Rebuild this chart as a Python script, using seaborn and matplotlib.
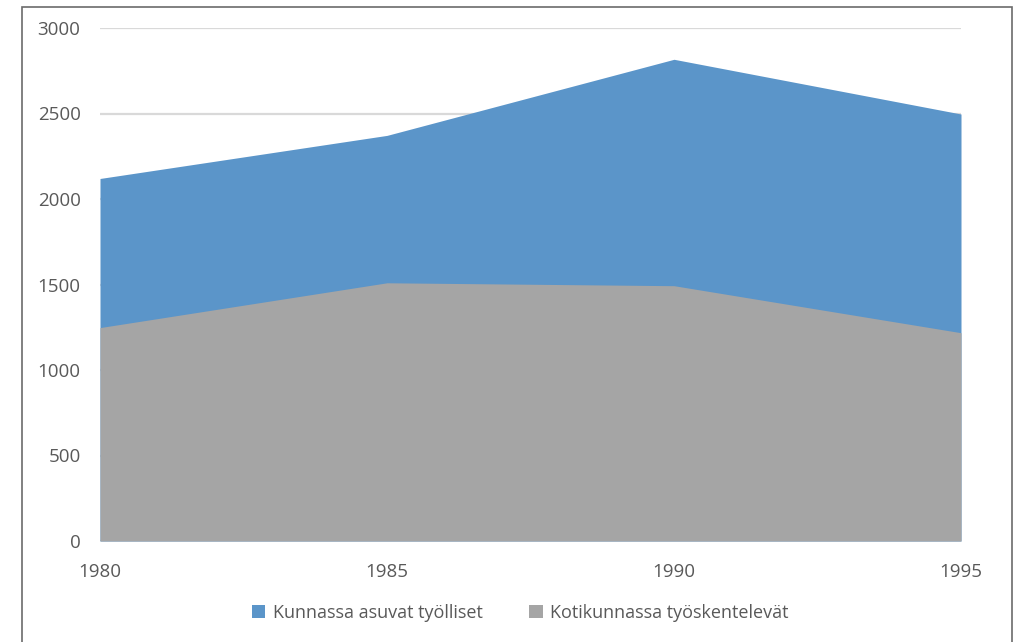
import numpy as np
import pandas as pd
import seaborn as sns
import matplotlib.pyplot as plt
from matplotlib.patches import Rectangle, Patch

years = [1980, 1985, 1990, 1995]
asuvat = [2120, 2372, 2817, 2497]      # Kunnassa asuvat työlliset
kotikunnassa = [1248, 1510, 1493, 1218]  # Kotikunnassa työskentelevät

labels = ["Kunnassa asuvat työlliset", "Kotikunnassa työskentelevät"]
colors = ["#5B95C9", "#A5A5A5"]

df = pd.DataFrame({"vuosi": years, labels[0]: asuvat, labels[1]: kotikunnassa})

sns.set_style("white")
plt.rcParams['font.family'] = ['Open Sans', 'DejaVu Sans']
text_col = "#595959"

fig = plt.figure(figsize=(10.2, 6.42), dpi=100)
ax = fig.add_axes([100 / 1020, 101 / 642, 861 / 1020, 513 / 642])

# areas drawn over each other, not stacked
for name, col in zip(labels, colors):
    sns.lineplot(data=df, x="vuosi", y=name, ax=ax, color=col, linewidth=0)
    ax.fill_between(df["vuosi"], 0, df[name], color=col, linewidth=0, zorder=2)

ax.set_xlim(1980, 1995)
ax.set_ylim(0, 3000)
ax.set_xticks(years)
ax.set_yticks(np.arange(0, 3001, 500))
ax.yaxis.grid(True, color="#D9D9D9", linewidth=1.6, zorder=0)
ax.set_axisbelow(True)
for s in ax.spines.values():
    s.set_visible(False)
ax.set_xlabel("")
ax.set_ylabel("")
ax.tick_params(axis="y", length=0, pad=14, labelsize=13.5, labelcolor=text_col)
ax.tick_params(axis="x", length=0, pad=16, labelsize=13.5, labelcolor=text_col)

handles = [Patch(facecolor=c, edgecolor="none") for c in colors]
fig.legend(handles, labels, loc="center", bbox_to_anchor=(0.51, 0.045), ncol=2,
           frameon=False, fontsize=13, labelcolor=text_col, handlelength=0.75,
           handleheight=0.75, handletextpad=0.4, columnspacing=2.6)

# outer chart frame
fig.patches.append(Rectangle((22 / 1020, -0.05), 990 / 1020, 1.05 - 7 / 642,
                             transform=fig.transFigure, fill=False,
                             edgecolor="#6b6b6b", linewidth=1.2))

fig.savefig("out.png", dpi=100)
